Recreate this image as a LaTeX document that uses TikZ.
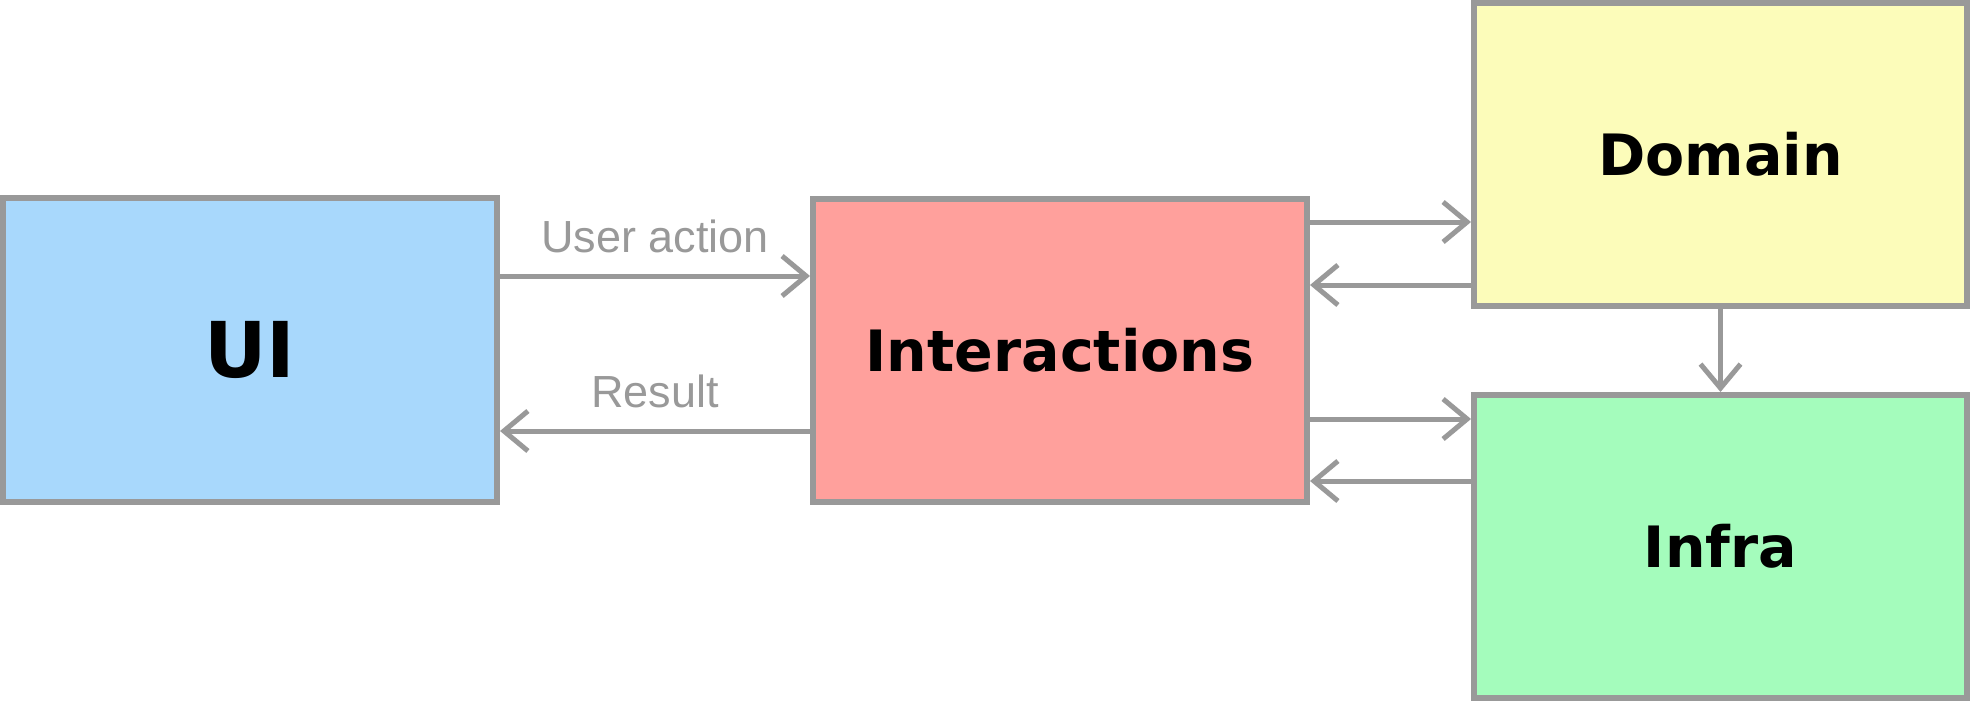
\documentclass[tikz,border=0pt]{standalone}
\usepackage{fontspec}
\usetikzlibrary{arrows.meta}
\newfontfamily\boxfont{DejaVu Sans}
\newfontfamily\labfont{Liberation Sans}
\definecolor{edgegray}{HTML}{999999}
\definecolor{uifill}{HTML}{A8D8FC}
\definecolor{intfill}{HTML}{FFA09C}
\definecolor{domfill}{HTML}{FCFCBA}
\definecolor{infrafill}{HTML}{A4FCBC}
\tikzset{
  layerbox/.style={draw=edgegray, line width=6pt, rectangle, inner sep=0pt,
    minimum width=494pt, minimum height=303pt, font=\boxfont\bfseries\fontsize{57pt}{60pt}\selectfont},
  arr/.style={draw=edgegray, line width=5pt, -{Straight Barb[length=24pt,width=40pt,line width=5pt]}},
  lab/.style={text=edgegray, font=\labfont\fontsize{45pt}{48pt}\selectfont, anchor=base, inner sep=0pt}
}
\begin{document}
\begin{tikzpicture}[x=1pt,y=-1pt]
\useasboundingbox (0,0) rectangle (1971,701);
\node[layerbox, fill=uifill, minimum height=304pt, font=\boxfont\bfseries\fontsize{77pt}{80pt}\selectfont] (ui) at (250,350) {UI};
\node[layerbox, fill=intfill] (int) at (1060,350.5) {Interactions};
\node[layerbox, fill=domfill, minimum width=493pt] (dom) at (1720.5,154.5) {Domain};
\node[layerbox, fill=infrafill, minimum width=493pt] (infra) at (1720.5,546.5) {Infra};

\draw[arr] (ui.east |- 0,276) -- node[lab, midway, yshift=24pt] {User action} (int.west |- 0,276);
\draw[arr] (int.west |- 0,431) -- node[lab, midway, yshift=24pt] {Result} (ui.east |- 0,431);

\draw[arr] (int.east |- 0,222) -- (dom.west |- 0,222);
\draw[arr] (dom.west |- 0,285) -- (int.east |- 0,285);
\draw[arr] (int.east |- 0,419) -- (infra.west |- 0,419);
\draw[arr] (infra.west |- 0,481) -- (int.east |- 0,481);

\draw[arr] (dom.south) -- (infra.north);
\end{tikzpicture}
\end{document}
